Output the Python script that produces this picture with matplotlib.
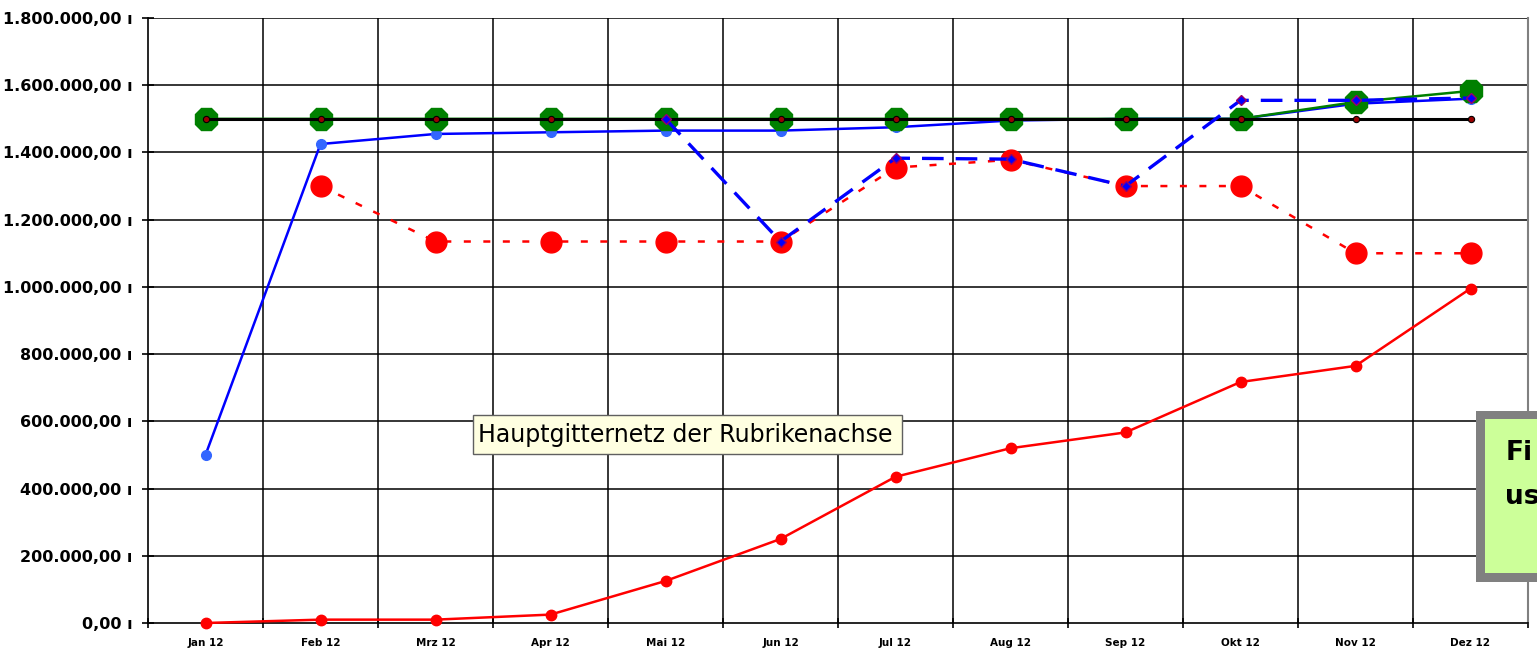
import numpy as np
import matplotlib
matplotlib.use("Agg")
import matplotlib.pyplot as plt
from matplotlib.patches import Rectangle
from matplotlib.ticker import FixedLocator, FuncFormatter

# ---- data ----
months = ["Jan 12", "Feb 12", "Mrz 12", "Apr 12", "Mai 12", "Jun 12",
          "Jul 12", "Aug 12", "Sep 12", "Okt 12", "Nov 12", "Dez 12"]
nan = np.nan
red_solid = [0, 10000, 10000, 25000, 125000, 250000, 435000, 520000,
             567000, 717000, 765000, 995000]
red_dotted = [nan, 1300000, 1135000, 1135000, 1135000, 1135000, 1355000,
              1378000, 1300000, 1300000, 1100000, 1100000]
blue_solid = [500000, 1425000, 1455000, 1460000, 1465000, 1465000, 1475000,
              1495000, 1500000, 1500000, 1545000, 1560000]
blue_dashed = [nan, nan, nan, nan, 1500000, 1135000, 1383000, 1380000,
               1300000, 1555000, 1555000, 1562000]
black_line = [1500000] * 12
green_line = [1500000] * 10 + [1550000, 1583000]
y_ticks = [0, 200000, 400000, 600000, 800000, 1000000, 1200000, 1400000,
           1600000, 1800000]
tooltip_text = "Hauptgitternetz der Rubrikenachse"
box_lines = ["Fi", "us"]

W, H = 1537, 656
fig = plt.figure(figsize=(W / 100, H / 100), dpi=100)
fig.patch.set_facecolor("white")
ax = fig.add_axes([148 / W, (H - 623) / H, (1528 - 148) / W, (623 - 18) / H])
ax.set_facecolor("white")

x = np.arange(len(months))

ax.plot(x, red_solid, color="#FF0000", lw=1.8, marker="o", ms=7.5,
        mfc="#FF0000", mec="#FF0000", zorder=3, clip_on=False)
ax.plot(x, red_dotted, color="#FF0000", lw=1.8, ls=(0, (2.8, 5)),
        marker="o", ms=15, mfc="#FF0000", mec="#FF0000", zorder=4, clip_on=False)
ax.plot(x, blue_solid, color="#0000FF", lw=1.8, marker="o", ms=7,
        mfc="#3366FF", mec="#3366FF", zorder=5, clip_on=False)
ax.plot(x, green_line, color="#008000", lw=1.8, marker="8", ms=17,
        mfc="#008000", mec="#008000", zorder=6, clip_on=False)
ax.plot(x, black_line, color="#000000", lw=2.2, marker="o", ms=4.5,
        mfc="#990000", mec="#000000", mew=0.8, zorder=7, clip_on=False)
ax.plot(x, blue_dashed, color="#0000FF", lw=2.4, ls=(0, (6.5, 3.6)),
        marker="D", ms=5.5, mfc="#0000FF", mec="#990066", mew=1,
        zorder=8, clip_on=False)

ax.set_xlim(-0.5, len(months) - 0.5)
ax.set_ylim(0, 1800000)

# y axis
ax.yaxis.set_major_locator(FixedLocator(y_ticks))
def fmt(v, pos):
    s = f"{int(round(v)):,}".replace(",", ".")
    return s + ",00 \u0131"
ax.yaxis.set_major_formatter(FuncFormatter(fmt))
ax.tick_params(axis="y", which="major", direction="inout", length=8,
               width=1.2, pad=7, labelsize=11.5)
for lab in ax.get_yticklabels():
    lab.set_fontweight("bold")
    lab.set_family("DejaVu Sans")

# x axis
ax.set_xticks(x)
ax.set_xticklabels(months, fontsize=7.5, fontweight="bold")
ax.set_xticks(np.arange(-0.5, len(months)), minor=True)
ax.tick_params(axis="x", which="major", length=0, pad=11)
ax.tick_params(axis="x", which="minor", direction="inout", length=7, width=1.2)

# grid
ax.grid(False)
for yv in y_ticks[1:]:
    ax.axhline(yv, color="#000000", lw=1.1, zorder=1)
for xv in np.arange(0.5, len(months) - 1):
    ax.axvline(xv, color="#000000", lw=1.1, zorder=1)

ax.spines["top"].set_visible(False)
ax.spines["right"].set_color("#808080")
ax.spines["right"].set_linewidth(1.5)
ax.spines["left"].set_color("#000000")
ax.spines["left"].set_linewidth(1.2)
ax.spines["bottom"].set_color("#000000")
ax.spines["bottom"].set_linewidth(1.2)

# tooltip
fig.patches.append(Rectangle((473 / W, (H - 454) / H), (902 - 473) / W, (454 - 415) / H,
                             transform=fig.transFigure, facecolor="#FFFFE1",
                             edgecolor="#606060", lw=1, zorder=20))
fig.text(478 / W, (H - 435) / H, tooltip_text, fontsize=17, family="DejaVu Sans",
         ha="left", va="center", color="black", zorder=21)

# green box on the right
fig.patches.append(Rectangle((1476 / W, (H - 582) / H), (1560 - 1476) / W, (582 - 411) / H,
                             transform=fig.transFigure, facecolor="#808080",
                             edgecolor="none", zorder=20))
fig.patches.append(Rectangle((1485 / W, (H - 573) / H), (1560 - 1485) / W, (573 - 419) / H,
                             transform=fig.transFigure, facecolor="#CCFF99",
                             edgecolor="none", zorder=21))
fig.text(1506 / W, (H - 460) / H, box_lines[0], fontsize=19, fontweight="bold",
         family=["Liberation Sans Narrow", "DejaVu Sans"], ha="left", va="baseline",
         zorder=22)
fig.text(1505 / W, (H - 504) / H, box_lines[1], fontsize=19, fontweight="bold",
         family=["Liberation Sans Narrow", "DejaVu Sans"], ha="left", va="baseline",
         zorder=22)

fig.savefig("out.png", dpi=100)
